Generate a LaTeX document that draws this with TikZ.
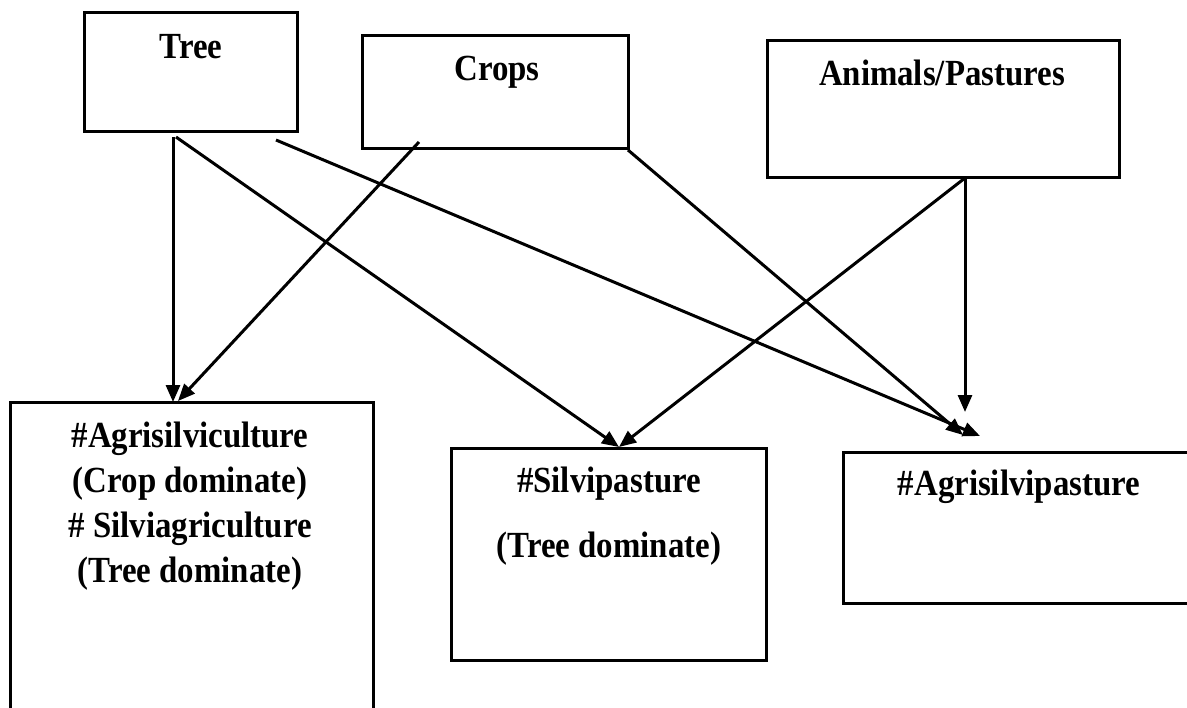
\documentclass[tikz,border=0pt]{standalone}
\usepackage{fontspec}
\setmainfont{Liberation Serif}
\usetikzlibrary{arrows.meta}
\newcommand{\tall}[1]{\scalebox{1}[1.12]{#1}}
\begin{document}
\begin{tikzpicture}[x=1bp,y=-1bp,
  box/.style={draw=black,line width=3bp,inner sep=0pt},
  lbl/.style={anchor=base,inner sep=0pt,font=\fontsize{33}{45}\selectfont\bfseries},
  conn/.style={line width=3bp,-{Triangle[length=17bp,width=14bp]}}]
\useasboundingbox (0,0) rectangle (1187,708);
\clip (0,0) rectangle (1187,708);
% boxes
\node[box,minimum width=212bp,minimum height=119bp] (tree) at (191,72.5) {};
\node[box,minimum width=266bp,minimum height=112bp] (crops) at (495,92) {};
\node[box,minimum width=352bp,minimum height=136bp] (animals) at (943,109) {};
\node[box,minimum width=362bp,minimum height=318bp] (agri) at (192,561) {};
\node[box,minimum width=315bp,minimum height=212bp] (silvi) at (608.5,554) {};
\node[box,minimum width=357bp,minimum height=151bp] (agsp) at (1021.5,527.5) {};
% texts
\node[lbl] (ttree) at (191,59) {\tall{Tree}};
\node[lbl] (tcrops) at (497,81) {\tall{Crops}};
\node[lbl] (tanimals) at (942,86) {\tall{Animals/Pastures}};
\node[lbl] (tagri1) at (190,447) {\tall{\#Agrisilviculture}};
\node[lbl] (tagri2) at (190,492) {\tall{(Crop dominate)}};
\node[lbl] (tagri3) at (190,537) {\tall{\# Silviagriculture}};
\node[lbl] (tagri4) at (190,582) {\tall{(Tree dominate)}};
\node[lbl] (tsilvi1) at (609,492) {\tall{\#Silvipasture}};
\node[lbl] (tsilvi2) at (609,557) {\tall{(Tree dominate)}};
\node[lbl] (tagsp) at (1019,495) {\tall{\#Agrisilvipasture}};
% connector ends
\coordinate (s1) at (173,137);
\coordinate (s2) at (176,137);
\coordinate (s3) at (276,140);
\coordinate (s4) at (419,142);
\coordinate (s5) at (628,150);
\coordinate (s6) at (965,178);
\coordinate (e1) at (173,402);
\coordinate (e4) at (178,401);
\coordinate (es) at (619,447);
\coordinate (e3) at (980,436);
\coordinate (e5) at (963,435);
\coordinate (e7) at (965,412);
% connectors
\draw[conn] (s1) -- (e1);
\draw[conn] (s2) -- (es);
\draw[conn] (s3) -- (e3);
\draw[conn] (s4) -- (e4);
\draw[conn] (s5) -- (e5);
\draw[conn] (s6) -- (es);
\draw[conn] (s6) -- (e7);
\end{tikzpicture}
\end{document}
